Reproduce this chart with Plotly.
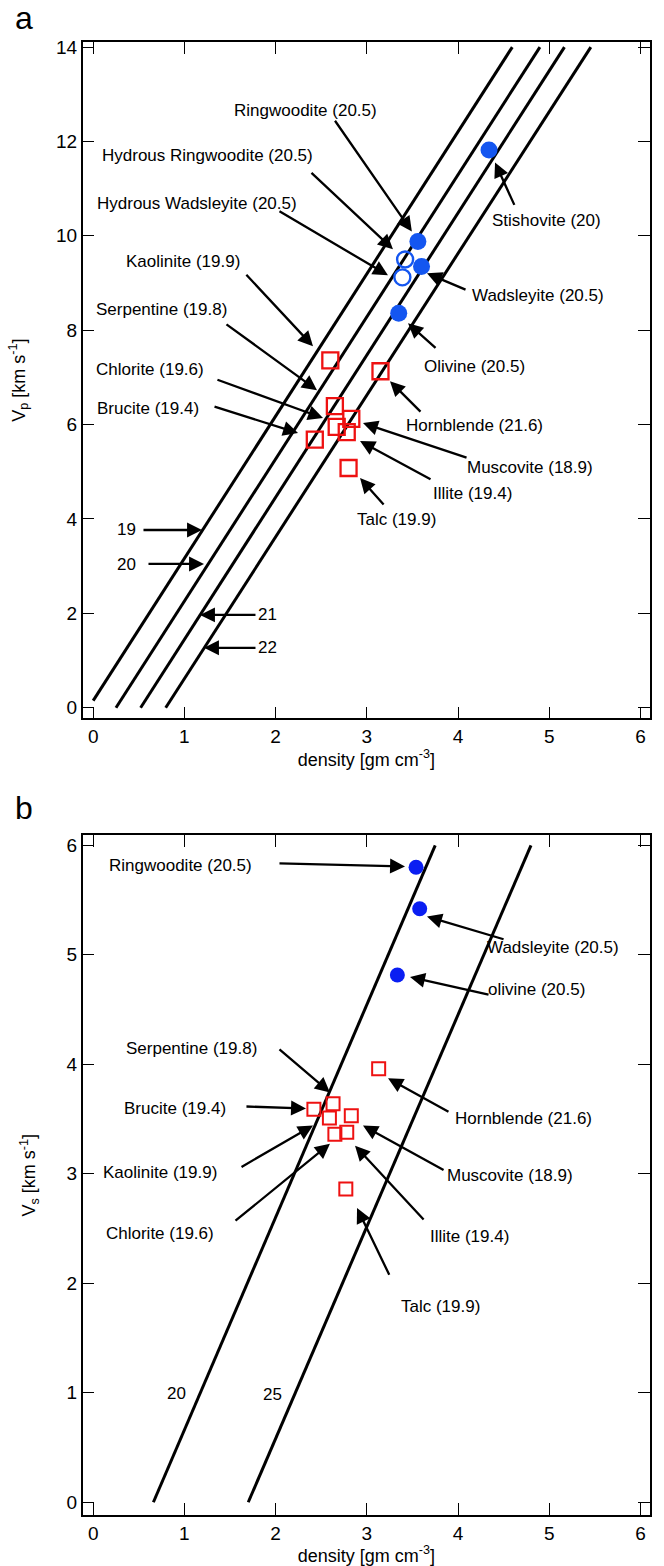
import plotly.graph_objects as go

# ---------------- panel a : Vp vs density ----------------
# high-pressure phases (filled circles)
hp_names = ["Stishovite (20)", "Ringwoodite (20.5)", "Wadsleyite (20.5)", "Olivine (20.5)"]
hp_rho = [4.34, 3.56, 3.60, 3.35]
hp_vp = [11.82, 9.88, 9.35, 8.36]

# hydrous phases (open circles)
hyd_names = ["Hydrous Ringwoodite (20.5)", "Hydrous Wadsleyite (20.5)"]
hyd_rho = [3.42, 3.39]
hyd_vp = [9.50, 9.12]

# hydrous / sheet silicates (open squares)
sil_names = ["Kaolinite (19.9)", "Hornblende (21.6)", "Serpentine (19.8)", "Muscovite (18.9)",
             "Chlorite (19.6)", "Illite (19.4)", "Brucite (19.4)", "Talc (19.9)"]
sil_rho = [2.60, 3.15, 2.65, 2.83, 2.67, 2.78, 2.43, 2.80]
sil_vp = [7.36, 7.13, 6.39, 6.12, 5.95, 5.84, 5.68, 5.08]

# lines of constant mean atomic weight (Birch's law)
mw_a_labels = ["19", "20", "21", "22"]
mw_a_rho = [[0.0, 4.595], [0.25, 4.898], [0.52, 5.167], [0.795, 5.456]]
mw_a_vp = [[0.15, 14.0], [0.0, 14.0], [0.0, 14.0], [0.0, 14.0]]

# ---------------- panel b : Vs vs density ----------------
hp_names_b = ["Ringwoodite (20.5)", "Wadsleyite (20.5)", "olivine (20.5)"]
hp_rho_b = [3.54, 3.58, 3.335]
hp_vs_b = [5.80, 5.42, 4.815]

sil_names_b = ["Hornblende (21.6)", "Brucite (19.4)", "Serpentine (19.8)", "Kaolinite (19.9)",
               "Muscovite (18.9)", "Chlorite (19.6)", "Illite (19.4)", "Talc (19.9)"]
sil_rho_b = [3.13, 2.42, 2.63, 2.59, 2.83, 2.65, 2.78, 2.77]
sil_vs_b = [3.96, 3.59, 3.64, 3.51, 3.53, 3.36, 3.38, 2.86]

mw_b_labels = ["20", "25"]
mw_b_rho = [[0.66, 3.75], [1.70, 4.80]]
mw_b_vs = [[0.0, 6.0], [0.0, 6.0]]

# annotation layout: label (x, y), arrow tail (x, y), arrow head (x, y)
ann_a = {
    "Ringwoodite (20.5)":         ((2.333, 12.66), (2.64, 12.47), (3.494, 10.09)),
    "Hydrous Ringwoodite (20.5)": ((1.25, 11.70), (2.377, 11.365), (3.287, 9.714)),
    "Hydrous Wadsleyite (20.5)":  ((1.138, 10.69), (2.026, 10.54), (3.232, 9.164)),
    "Kaolinite (19.9)":           ((0.985, 9.46), (1.664, 9.206), (2.41, 7.661)),
    "Serpentine (19.8)":          ((0.754, 8.444), (1.445, 8.148), (2.454, 6.73)),
    "Chlorite (19.6)":            ((0.623, 7.175), (1.346, 6.963), (2.52, 6.138)),
    "Brucite (19.4)":             ((0.601, 6.349), (1.314, 6.392), (2.246, 5.82)),
    "Stishovite (20)":            ((4.965, 10.33), (4.625, 10.624), (4.406, 11.556)),
    "Wadsleyite (20.5)":          ((4.878, 8.741), (4.099, 8.847), (3.66, 9.206)),
    "Olivine (20.5)":             ((4.176, 7.238), (3.77, 7.598), (3.452, 8.148)),
    "Hornblende (21.6)":          ((4.186, 5.989), (3.605, 6.243), (3.254, 6.921)),
    "Muscovite (18.9)":           ((4.789, 5.101), (4.11, 5.291), (2.958, 6.032)),
    "Illite (19.4)":              ((4.154, 4.55), (3.715, 4.825), (2.926, 5.651)),
    "Talc (19.9)":                ((3.331, 3.979), (3.199, 4.275), (2.926, 4.868)),
    "19":                         ((0.36, 3.767), (0.535, 3.767), (1.193, 3.767)),
    "20":                         ((0.36, 3.026), (0.59, 3.048), (1.215, 3.048)),
    "21":                         ((1.906, 1.968), (1.796, 1.968), (1.171, 1.968)),
    "22":                         ((1.906, 1.27), (1.796, 1.27), (1.215, 1.27)),
}

ann_b = {
    "Ringwoodite (20.5)": ((0.952, 5.817), (2.026, 5.835), (3.419, 5.807)),
    "Wadsleyite (20.5)":  ((5.042, 5.064), (4.516, 5.138), (3.66, 5.349)),
    "olivine (20.5)":     ((4.866, 4.679), (4.351, 4.633), (3.474, 4.798)),
    "Serpentine (19.8)":  ((1.083, 4.147), (2.026, 4.147), (2.596, 3.743)),
    "Brucite (19.4)":     ((0.897, 3.596), (1.664, 3.615), (2.333, 3.596)),
    "Kaolinite (19.9)":   ((0.732, 3.009), (1.61, 3.055), (2.41, 3.44)),
    "Chlorite (19.6)":    ((0.732, 2.459), (1.544, 2.56), (2.596, 3.275)),
    "Hornblende (21.6)":  ((4.713, 3.505), (3.912, 3.56), (3.233, 3.872)),
    "Muscovite (18.9)":   ((4.57, 2.982), (3.858, 3.028), (2.958, 3.44)),
    "Illite (19.4)":      ((4.131, 2.431), (3.638, 2.569), (2.871, 3.257)),
    "Talc (19.9)":        ((3.803, 1.789), (3.254, 2.064), (2.893, 2.688)),
}
line_label_b = {"20": (0.908, 0.991), "25": (1.971, 0.982)}

FONT = "Liberation Sans, Arial, Helvetica, sans-serif"
BLUE_A = "#1456f0"
BLUE_B = "#0a1ef2"
RED = "#ee1111"

fig = go.Figure()

# panel a traces
for rho, vp in zip(mw_a_rho, mw_a_vp):
    fig.add_trace(go.Scatter(x=rho, y=vp, mode="lines", line=dict(color="black", width=3),
                             xaxis="x", yaxis="y", showlegend=False, hoverinfo="skip"))
fig.add_trace(go.Scatter(x=sil_rho, y=sil_vp, mode="markers", text=sil_names,
                         marker=dict(symbol="square-open", size=16, color=RED, line=dict(width=2.3, color=RED)),
                         xaxis="x", yaxis="y", showlegend=False))
fig.add_trace(go.Scatter(x=hyd_rho, y=hyd_vp, mode="markers", text=hyd_names,
                         marker=dict(symbol="circle-open", size=16, color=BLUE_A, line=dict(width=2.4, color=BLUE_A)),
                         xaxis="x", yaxis="y", showlegend=False))
fig.add_trace(go.Scatter(x=hp_rho, y=hp_vp, mode="markers", text=hp_names,
                         marker=dict(symbol="circle", size=17, color=BLUE_A, line=dict(width=0)),
                         xaxis="x", yaxis="y", showlegend=False))

# panel b traces
for rho, vs in zip(mw_b_rho, mw_b_vs):
    fig.add_trace(go.Scatter(x=rho, y=vs, mode="lines", line=dict(color="black", width=3),
                             xaxis="x2", yaxis="y2", showlegend=False, hoverinfo="skip"))
fig.add_trace(go.Scatter(x=sil_rho_b, y=sil_vs_b, mode="markers", text=sil_names_b,
                         marker=dict(symbol="square-open", size=13, color=RED, line=dict(width=2.0, color=RED)),
                         xaxis="x2", yaxis="y2", showlegend=False))
fig.add_trace(go.Scatter(x=hp_rho_b, y=hp_vs_b, mode="markers", text=hp_names_b,
                         marker=dict(symbol="circle", size=15, color=BLUE_B, line=dict(width=0)),
                         xaxis="x2", yaxis="y2", showlegend=False))

annotations = []


def add_arrows(spec, xr, yr):
    for text, (lab, tail, head) in spec.items():
        annotations.append(dict(x=head[0], y=head[1], ax=tail[0], ay=tail[1],
                                xref=xr, yref=yr, axref=xr, ayref=yr, text="",
                                showarrow=True, arrowhead=2, arrowsize=1.3, arrowwidth=2.3,
                                arrowcolor="black", standoff=0, startstandoff=0))
        annotations.append(dict(x=lab[0], y=lab[1], xref=xr, yref=yr, text=text, showarrow=False,
                                font=dict(family=FONT, size=17, color="black"),
                                xanchor="center", yanchor="middle"))


add_arrows(ann_a, "x", "y")
add_arrows(ann_b, "x2", "y2")
for text, (lx, ly) in line_label_b.items():
    annotations.append(dict(x=lx, y=ly, xref="x2", yref="y2", text=text, showarrow=False,
                            font=dict(family=FONT, size=17, color="black"),
                            xanchor="center", yanchor="middle"))

# panel letters
annotations.append(dict(x=24 / 664, y=1 - 13 / 1566, xref="paper", yref="paper", text="a",
                        showarrow=False, xanchor="center", yanchor="middle",
                        font=dict(family=FONT, size=32, color="black")))
annotations.append(dict(x=24 / 664, y=1 - 806 / 1566, xref="paper", yref="paper", text="b",
                        showarrow=False, xanchor="center", yanchor="middle",
                        font=dict(family=FONT, size=32, color="black")))

axis_common = dict(showline=True, linecolor="black", linewidth=1.5, mirror="ticks",
                   ticks="inside", ticklen=12, tickwidth=1.2, tickcolor="black",
                   showgrid=False, zeroline=False,
                   tickfont=dict(family=FONT, size=19, color="black"))

title_font = dict(family=FONT, size=18, color="black")
xdom = [82.6 / 664, 650 / 664]
fig.update_layout(
    width=664, height=1566,
    margin=dict(l=0, r=0, t=0, b=0),
    paper_bgcolor="white", plot_bgcolor="white",
    showlegend=False,
    annotations=annotations,
    xaxis=dict(domain=xdom, range=[-0.116, 6.105], dtick=1, anchor="y",
               title=dict(text="density [gm cm<sup>-3</sup>]", standoff=0, font=title_font),
               **axis_common),
    yaxis=dict(domain=[1 - 715.7 / 1566, 1 - 37 / 1566], range=[-0.226, 14.11], dtick=2, anchor="x",
               title=dict(text="V<sub>p</sub> [km s<sup>-1</sup>]", standoff=26, font=title_font),
               **axis_common),
    xaxis2=dict(domain=xdom, range=[-0.116, 6.105], dtick=1, anchor="y2",
                title=dict(text="density [gm cm<sup>-3</sup>]", standoff=1, font=title_font),
                **axis_common),
    yaxis2=dict(domain=[1 - 1515 / 1566, 1 - 833 / 1566], range=[-0.118, 6.091], dtick=1, anchor="x2",
                title=dict(text="V<sub>s</sub> [km s<sup>-1</sup>]", standoff=26, font=title_font),
                **axis_common),
)

fig.write_html("out.html")
